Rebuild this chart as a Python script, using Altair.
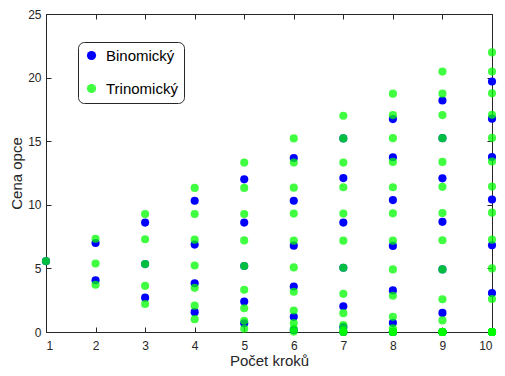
import altair as alt
import pandas as pd

# ---- data ----
steps = [1, 2, 3, 4, 5, 6, 7, 8, 9, 10]

binomicky = [
    [5.57],
    [7.00, 4.07],
    [8.60, 5.34, 2.70],
    [10.32, 6.87, 3.83, 1.56],
    [12.00, 8.60, 5.19, 2.39, 0.68],
    [13.68, 10.32, 6.79, 3.58, 1.19, 0.15],
    [15.22, 12.10, 8.60, 5.05, 2.02, 0.39, 0.0],
    [16.74, 13.74, 10.37, 6.77, 3.27, 0.72, 0.0, 0.0],
    [18.20, 15.24, 12.08, 8.66, 4.92, 1.50, 0.0, 0.0, 0.0],
    [19.69, 16.77, 13.76, 10.42, 6.82, 3.06, 0.0, 0.0, 0.0, 0.0],
]

trinomicky = [
    [5.57],
    [7.33, 5.39, 3.71],
    [9.28, 7.29, 5.34, 3.63, 2.20],
    [11.33, 9.28, 7.26, 5.23, 3.47, 2.07, 1.01],
    [13.32, 11.33, 9.28, 7.20, 5.19, 3.32, 1.87, 0.88, 0.26],
    [15.22, 13.32, 11.35, 9.31, 7.18, 5.08, 3.16, 1.69, 0.70, 0.25, 0.03],
    [17.00, 15.22, 13.32, 11.38, 9.31, 7.18, 5.05, 3.00, 1.48, 0.54, 0.13, 0.0, 0.0],
    [18.74, 17.05, 15.24, 13.37, 11.38, 9.33, 7.18, 4.92, 2.85, 1.19, 0.29, 0.03,
     0.0, 0.0, 0.0],
    [20.47, 18.74, 17.05, 15.24, 13.37, 11.41, 9.35, 7.21, 4.92, 2.57, 0.91, 0.0,
     0.0, 0.0, 0.0, 0.0, 0.0],
    [21.98, 20.47, 18.76, 17.08, 15.26, 13.40, 11.43, 9.38, 7.26, 5.00, 2.59, 0.0,
     0.0, 0.0, 0.0, 0.0, 0.0, 0.0, 0.0],
]

series_names = ["Binomický", "Trinomický"]
series_colors = ["#0000ff", "#00ff00"]
series_opacity = [1.0, 0.75]

x_ticks = steps
y_ticks = [0, 5, 10, 15, 20, 25]

rows = []
for name, table in zip(series_names, [binomicky, trinomicky]):
    for s, vals in zip(steps, table):
        for v in vals:
            rows.append({"krok": s, "cena": v, "serie": name})
df = pd.DataFrame(rows)

# ---- styling ----
FONT = "Liberation Sans"
INK = "#262626"
LEFT = 38
TOP = 6
H = 318
W = 446

xscale = alt.Scale(domain=[1, 10], nice=False, zero=False)
yscale = alt.Scale(domain=[0, 25], nice=False, zero=False)


def tick_axis(orient, vals):
    return alt.Axis(orient=orient, values=vals, labels=False, domain=False,
                    grid=False, ticks=True, tickSize=5, offset=-5,
                    tickColor=INK, tickWidth=1, title=None)


main = alt.Chart(df).mark_circle(size=66).encode(
    x=alt.X("krok:Q", scale=xscale,
            axis=alt.Axis(orient="bottom", values=x_ticks, format="d",
                          title="Počet kroků", ticks=False, domain=False,
                          grid=False, labelFontSize=12, labelColor=INK,
                          labelFont=FONT, labelPadding=8,
                          titleFont=FONT, titleFontSize=15,
                          titleFontWeight="normal", titleColor=INK,
                          titleY=33, titleBaseline="alphabetic")),
    y=alt.Y("cena:Q", scale=yscale,
            axis=alt.Axis(orient="left", values=y_ticks, format="d",
                          title="Cena opce", ticks=False, domain=False,
                          grid=False, labelFontSize=12, labelColor=INK,
                          labelFont=FONT, labelPadding=5,
                          titleFont=FONT, titleFontSize=15,
                          titleFontWeight="normal", titleColor=INK,
                          titleX=-25, titleBaseline="alphabetic")),
    color=alt.Color("serie:N",
                    scale=alt.Scale(domain=series_names, range=series_colors),
                    title=None),
    opacity=alt.Opacity("serie:N",
                        scale=alt.Scale(domain=series_names, range=series_opacity),
                        title=None),
)

ticks_bl = alt.Chart(df).mark_point(opacity=0).encode(
    x=alt.X("krok:Q", scale=xscale, axis=tick_axis("bottom", x_ticks)),
    y=alt.Y("cena:Q", scale=yscale, axis=tick_axis("left", y_ticks)),
)

ticks_tr = alt.Chart(df).mark_point(opacity=0).encode(
    x=alt.X("krok:Q", scale=xscale, axis=tick_axis("top", x_ticks)),
    y=alt.Y("cena:Q", scale=yscale, axis=tick_axis("right", y_ticks)),
)

chart = (
    alt.layer(main, ticks_bl, ticks_tr)
    .resolve_axis(x="independent", y="independent")
    .properties(width=W, height=H, autosize="none",
                padding={"left": LEFT, "top": TOP, "right": 489 - LEFT - W,
                         "bottom": 360 - TOP - H})
    .configure_view(stroke=INK, strokeWidth=1)
    .configure_legend(orient="none", legendX=78 - 8 - LEFT, legendY=42 - 8 - TOP,
                      strokeColor=INK, fillColor="white", cornerRadius=6,
                      padding=6, labelFont=FONT, labelFontSize=15,
                      labelColor="black", symbolType="circle", symbolSize=85,
                      symbolStrokeWidth=0, rowPadding=17, labelOffset=7)
)

chart.save("out.html", embed_options={"renderer": "svg", "actions": False})
